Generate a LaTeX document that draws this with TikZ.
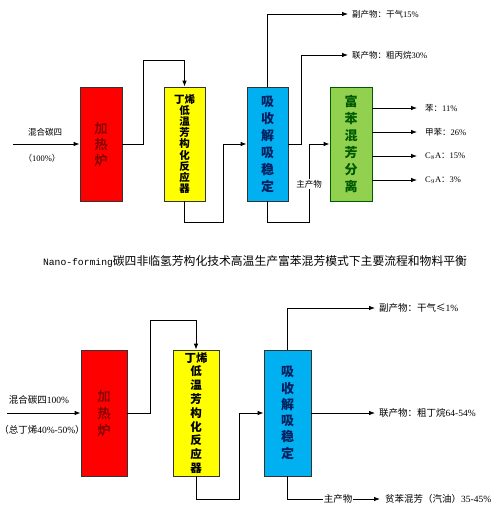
\documentclass[tikz,border=0pt]{standalone}
\usepackage{fontspec}
\setmainfont{Liberation Serif}
\newfontfamily\cjk{Noto Sans CJK SC}
\newfontfamily\cjkfb{Noto Sans CJK SC}[FakeBold=1.5]
\newfontfamily\monofnt{Liberation Mono}
\usetikzlibrary{arrows.meta}
\definecolor{rbox}{RGB}{255,0,0}
\definecolor{ybox}{RGB}{255,255,0}
\definecolor{bbox}{RGB}{0,176,240}
\definecolor{gbox}{RGB}{146,208,80}
\definecolor{rtext}{RGB}{125,0,0}
\definecolor{btext}{RGB}{0,32,96}
\definecolor{gtext}{RGB}{0,90,0}
\begin{document}
\begin{tikzpicture}[x=1pt,y=-1pt,
  boxa/.style={draw=black!80, line width=0.8pt, inner sep=0pt, align=center},
  arr/.style={line width=0.8pt, -{Latex[length=6pt,width=4.5pt]}},
  lab/.style={inner sep=0pt, anchor=west, font=\fontsize{8.5}{10}\selectfont},
  labb/.style={inner sep=0pt, anchor=west, font=\fontsize{9.5}{11}\selectfont},
  mid/.style={inner sep=1pt, fill=white}]
\useasboundingbox (0,0) rectangle (500,511);
\fill[white] (0,0) rectangle (500,511);

% ---------------- top diagram ----------------
\node[boxa, fill=rbox, minimum width=42, minimum height=114, text=rtext,
  font=\cjkfb\fontsize{13}{16}\selectfont] (r1) at (101,144) {加\\热\\炉};
\node[boxa, fill=ybox, minimum width=41, minimum height=114, text=black,
  font=\cjk\bfseries\fontsize{10.5}{11.1}\selectfont] (y1) at (184.5,144)
  {丁烯\\低\\温\\芳\\构\\化\\反\\应\\器};
\node[boxa, fill=bbox, minimum width=41, minimum height=114, text=btext,
  font=\cjk\bfseries\fontsize{13}{17}\selectfont] (b1) at (267.5,144)
  {吸\\收\\解\\吸\\稳\\定};
\node[boxa, fill=gbox, draw=gtext, minimum width=42, minimum height=114, text=gtext,
  font=\cjk\bfseries\fontsize{13}{17}\selectfont] (g1) at (351,144)
  {富\\苯\\混\\芳\\分\\离};

\coordinate (in1) at (13,144);
\draw[arr] (in1) -- (r1.west);
\node[lab, anchor=center] (l1) at (45,132) {\cjk 混合碳四};
\node[lab, anchor=center] (l2) at (42,158) {{\cjk （}100\%{\cjk ）}};

\draw[arr] (r1.east) -| (143,60) -| (y1.north);
\draw[arr] (y1.south) |- (223,222) |- (b1.west);

\coordinate (e1) at (348,14);
\coordinate (e2) at (348,55);
\draw[arr] (b1.north) |- (e1);
\draw[arr] (b1.east) -| (301,55) -- (e2);
\node[lab] (t1) at (352,14) {{\cjk 副产物：干气}15\%};
\node[lab] (t2) at (352,55) {{\cjk 联产物：粗丙烷}30\%};

\draw[arr] (b1.south) |- (309,222) |- (g1.west);
\node[lab, anchor=center, mid] (m1) at (309,184) {\cjk 主产物};

\foreach \yy/\nm/\tx in {108/p1/{{\cjk 苯：}11\%},132/p2/{{\cjk 甲苯：}26\%},156/p3/{C$_8$A{\cjk ：}15\%},180/p4/{C$_9$A{\cjk ：}3\%}}{
  \coordinate (\nm) at (417,\yy);
  \draw[arr] (g1.east |- \nm) -- (\nm);
  \node[lab] (\nm t) at (425,\yy) {\tx};
}

% ---------------- title ----------------
\node[inner sep=0pt] (title) at (255,261)
  {{\monofnt\fontsize{9.7}{12}\selectfont Nano-forming}{\cjk\fontsize{11.8}{14}\selectfont 碳四非临氢芳构化技术高温生产富苯混芳模式下主要流程和物料平衡}};

% ---------------- bottom diagram ----------------
\node[boxa, fill=rbox, minimum width=46, minimum height=126, text=rtext,
  font=\cjkfb\fontsize{13}{17}\selectfont] (r2) at (104,413) {加\\热\\炉};
\node[boxa, fill=ybox, minimum width=46, minimum height=126, text=black,
  font=\cjk\bfseries\fontsize{11.5}{13.8}\selectfont] (y2) at (196,413)
  {丁烯\\低\\温\\芳\\构\\化\\反\\应\\器};
\node[boxa, fill=bbox, minimum width=47, minimum height=126, text=btext,
  font=\cjk\bfseries\fontsize{13}{16.3}\selectfont] (b2) at (287.5,413)
  {吸\\收\\解\\吸\\稳\\定};

\coordinate (in2) at (7,413);
\draw[arr] (in2) -- (r2.west);
\node[labb, anchor=center] (l3) at (39,400) {{\cjk 混合碳四}100\%};
\node[labb, anchor=center] (l4) at (42,430) {{\cjk （总丁烯}40\%-50\%{\cjk ）}};

\draw[arr] (r2.east) -| (150,320) -| (y2.north);
\draw[arr] (y2.south) |- (239,499) |- (b2.west);

\coordinate (f1) at (375,308);
\coordinate (f2) at (375,413);
\coordinate (f3) at (380,499);
\draw[arr] (b2.north) |- (f1);
\draw[arr] (b2.east) -- (f2);
\draw[arr] (b2.south) |- (f3);
\node[labb, anchor=center, mid] (m2) at (338,499) {\cjk 主产物};
\node[labb] (u1) at (379,308) {{\cjk 副产物：干气≤}1\%};
\node[labb] (u2) at (379,413) {{\cjk 联产物：粗丁烷}64-54\%};
\node[labb] (u3) at (385,499) {{\cjk 贫苯混芳（汽油）}35-45\%};
\end{tikzpicture}
\end{document}
